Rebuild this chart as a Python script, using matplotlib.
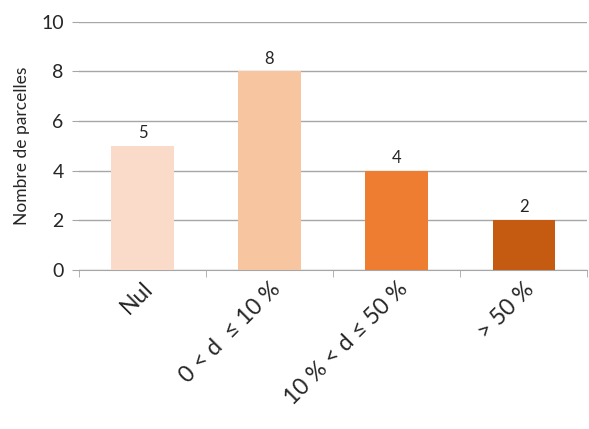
import matplotlib
matplotlib.use("Agg")
import matplotlib.pyplot as plt

categories = ["Nul", "0 < d  ≤ 10 %", "10 % < d ≤ 50 %", "> 50 %"]
counts = [5, 8, 4, 2]
colors = ["#FADBC9", "#F7C5A0", "#EE7D31", "#C55A11"]

plt.rcParams["font.family"] = ["Lato", "DejaVu Sans"]

fig = plt.figure(figsize=(5.89, 4.29), dpi=100)
ax = fig.add_axes([0.134, 0.371, 0.863, 0.578])

x = range(len(categories))
bars = ax.bar(x, counts, width=0.49, color=colors, zorder=3)
for b, v in zip(bars, counts):
    ax.text(b.get_x() + b.get_width() / 2, v + 0.2, str(v),
            ha="center", va="bottom", fontsize=12, color="#262626")

ax.set_xlim(-0.5, len(categories) - 0.5)
ax.set_ylim(0, 10)
ax.set_yticks(range(0, 11, 2))
ax.yaxis.grid(True, color="#A6A6A6", linewidth=1, zorder=0)
ax.set_xticks([i - 0.5 for i in range(len(categories) + 1)], minor=True)
ax.set_xticks(list(x))
ax.set_xticklabels(categories, rotation=45, ha="right", rotation_mode="anchor",
                   fontsize=16.5, color="#262626")
ax.tick_params(axis="x", which="major", length=0, pad=6)
ax.tick_params(axis="x", which="minor", length=5, color="#A6A6A6")
ax.tick_params(axis="y", length=5, color="#A6A6A6", labelsize=14,
               labelcolor="#262626", pad=6)
for s in ["top", "right", "left"]:
    ax.spines[s].set_visible(False)
ax.spines["bottom"].set_color("#A6A6A6")
ax.set_ylabel("Nombre de parcelles", fontsize=12.5, color="#262626", labelpad=8)

fig.savefig("out.png", dpi=100)
